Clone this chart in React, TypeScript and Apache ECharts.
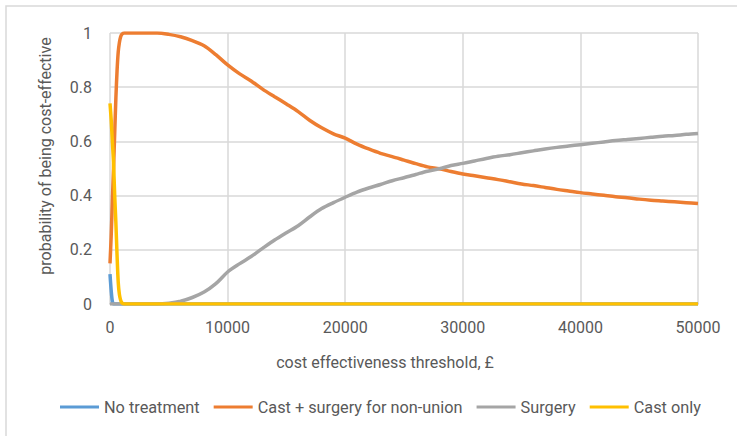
import React, { useEffect, useRef } from "react";
import * as echarts from "echarts";

const thresholds = [
  0, 100, 200, 300, 400, 500, 600, 700, 800, 900, 1000, 1200, 1500, 2000, 3000, 4000,
  5000, 6000, 7000, 8000, 9000, 10000, 11000, 12000, 13000, 14000, 15000, 16000, 17000,
  18000, 19000, 20000, 21000, 22000, 23000, 24000, 25000, 26000, 27000, 28000, 29000,
  30000, 31000, 32000, 33000, 34000, 35000, 36000, 37000, 38000, 39000, 40000, 41000,
  42000, 43000, 44000, 45000, 46000, 47000, 48000, 49000, 50000,
];

const noTreatment = [
  0.11, 0.05, 0.01, 0, 0, 0, 0, 0, 0, 0, 0, 0, 0, 0, 0, 0,
  0, 0, 0, 0, 0, 0, 0, 0, 0, 0, 0, 0, 0,
  0, 0, 0, 0, 0, 0, 0, 0, 0, 0, 0, 0,
  0, 0, 0, 0, 0, 0, 0, 0, 0, 0, 0, 0,
  0, 0, 0, 0, 0, 0, 0, 0, 0,
];

const castSurgery = [
  0.15, 0.25, 0.38, 0.5, 0.63, 0.76, 0.86, 0.93, 0.965, 0.985, 0.995, 1, 1, 1, 1, 1,
  0.995, 0.986, 0.972, 0.953, 0.92, 0.882, 0.85, 0.823, 0.792, 0.765, 0.738, 0.71, 0.677,
  0.65, 0.628, 0.612, 0.59, 0.572, 0.556, 0.544, 0.531, 0.518, 0.506, 0.499, 0.489,
  0.48, 0.473, 0.466, 0.459, 0.451, 0.443, 0.437, 0.43, 0.423, 0.417, 0.411, 0.406,
  0.401, 0.396, 0.392, 0.387, 0.383, 0.38, 0.377, 0.374, 0.371,
];

const surgery = [
  0, 0, 0, 0, 0, 0, 0, 0, 0, 0, 0, 0, 0, 0, 0, 0,
  0.003, 0.01, 0.024, 0.044, 0.075, 0.118, 0.148, 0.175, 0.206, 0.236, 0.263, 0.289, 0.322,
  0.352, 0.374, 0.394, 0.413, 0.428, 0.441, 0.455, 0.466, 0.478, 0.49, 0.499, 0.511,
  0.519, 0.528, 0.537, 0.545, 0.551, 0.558, 0.565, 0.572, 0.578, 0.583, 0.588, 0.593,
  0.598, 0.603, 0.607, 0.611, 0.615, 0.619, 0.622, 0.626, 0.629,
];

const castOnly = [
  0.74, 0.68, 0.6, 0.52, 0.4, 0.3, 0.18, 0.08, 0.035, 0.015, 0.005, 0, 0, 0, 0, 0,
  0, 0, 0, 0, 0, 0, 0, 0, 0, 0, 0, 0, 0,
  0, 0, 0, 0, 0, 0, 0, 0, 0, 0, 0, 0,
  0, 0, 0, 0, 0, 0, 0, 0, 0, 0, 0, 0,
  0, 0, 0, 0, 0, 0, 0, 0, 0,
];

const seriesNames = ["No treatment", "Cast + surgery for non-union", "Surgery", "Cast only"];
const seriesColors = ["#5B9BD5", "#ED7D31", "#A5A5A5", "#FFC000"];
const seriesValues = [noTreatment, castSurgery, surgery, castOnly];

const xTitle = "cost effectiveness threshold, £";
const yTitle = "probability of being cost-effective";

const FONT = "Roboto";
const TEXT = "#595959";

export default function App() {
  const ref = useRef<HTMLDivElement>(null);

  useEffect(() => {
    document.body.style.margin = "0";
    const chart = echarts.init(ref.current!, null, { renderer: "svg" });
    chart.setOption({
      animation: false,
      backgroundColor: "#ffffff",
      textStyle: { fontFamily: FONT },
      grid: { left: 110, right: 39, top: 33, bottom: 132, containLabel: false },
      xAxis: {
        type: "value",
        min: 0,
        max: 50000,
        interval: 10000,
        axisLine: { show: true, lineStyle: { color: "#BFBFBF", width: 1.5 } },
        axisTick: { show: false },
        axisLabel: {
          color: TEXT,
          fontSize: 16,
          fontFamily: FONT,
          margin: 15,
          formatter: (v: number) => String(v),
        },
        splitLine: { show: true, lineStyle: { color: "#D9D9D9", width: 1.5 } },
      },
      yAxis: {
        type: "value",
        min: 0,
        max: 1,
        interval: 0.2,
        axisLine: { show: false },
        axisTick: { show: false },
        axisLabel: { color: TEXT, fontSize: 16, fontFamily: FONT, margin: 18 },
        splitLine: { show: true, lineStyle: { color: "#D9D9D9", width: 1.5 } },
      },
      legend: {
        data: seriesNames,
        bottom: 16,
        left: 55,
        itemWidth: 39,
        itemHeight: 14,
        itemGap: 14,
        icon: "path://M0,0 L39,0 L39,3 L0,3 Z",
        textStyle: { color: TEXT, fontSize: 16.3, fontFamily: FONT },
      },
      graphic: [
        {
          type: "rect",
          shape: { x: 6, y: 6, width: 900, height: 900 },
          style: { fill: "none", stroke: "#D9D9D9", lineWidth: 1.5 },
          silent: true,
        },
        {
          type: "text",
          x: 385,
          y: 362,
          style: {
            text: xTitle,
            fill: TEXT,
            font: `16px ${FONT}`,
            align: "center",
            verticalAlign: "middle",
          },
        },
        {
          type: "text",
          x: 45,
          y: 156,
          rotation: Math.PI / 2,
          style: {
            text: yTitle,
            fill: TEXT,
            font: `16px ${FONT}`,
            align: "center",
            verticalAlign: "middle",
          },
        },
      ],
      series: seriesNames.map((name, i) => ({
        name,
        type: "line",
        data: thresholds.map((t, j) => [t, seriesValues[i][j]]),
        symbol: "none",
        smooth: 0.3,
        clip: true,
        lineStyle: { color: seriesColors[i], width: 3.5 },
        itemStyle: { color: seriesColors[i] },
      })),
    });
    return () => chart.dispose();
  }, []);

  return <div ref={ref} style={{ width: 737, height: 436 }} />;
}
